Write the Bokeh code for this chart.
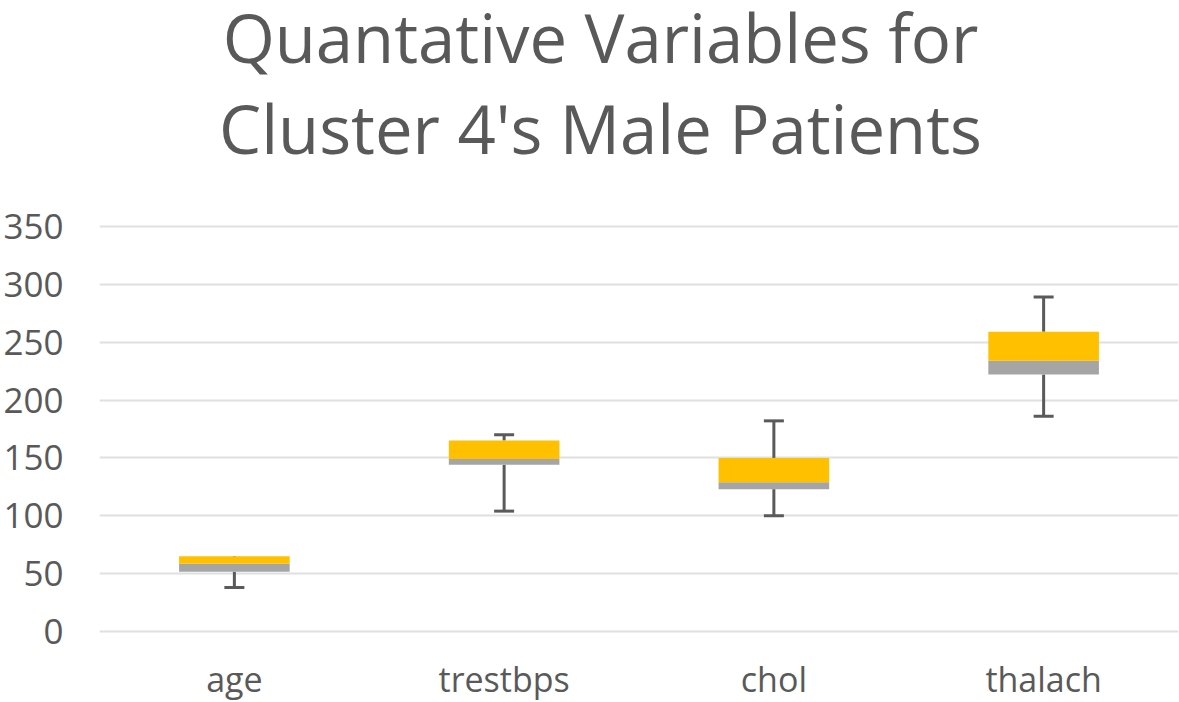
from bokeh.plotting import figure
from bokeh.models import Range1d, FixedTicker, Label, ColumnDataSource
from bokeh.core.properties import value
from bokeh.embed import file_html
from bokeh.resources import INLINE

# ---- data ----
categories = ["age", "trestbps", "chol", "thalach"]
mins    = [38, 104, 100, 186]
q1      = [51.5, 144, 123, 222]
medians = [58.5, 149, 129, 234]
q3      = [65, 165, 150, 259]
maxs    = [63, 170, 182, 289]
y_ticks = [0, 50, 100, 150, 200, 250, 300, 350]

GRAY_TEXT = "#595959"
FONT = "Open Sans"

# ---- layout constants ----
W, H = 1179, 702
LEFT = 98
Y_BOTTOM, Y_TOP = -61.4, 545.3      # frame spans the whole height; 0..350 sits where the reference has it
LABEL_Y = -41.2                     # anchor of category labels (data units)

xs = list(range(len(categories)))
src = ColumnDataSource(dict(x=xs, mn=mins, q1=q1, med=medians, q3=q3, mx=maxs,
                            lab=categories, laby=[LABEL_Y] * len(xs)))

p = figure(width=W, height=H, output_backend="svg", toolbar_location=None,
           x_range=Range1d(-0.5, 3.5), y_range=Range1d(Y_BOTTOM, Y_TOP),
           x_axis_location=None,
           min_border_left=LEFT, min_border_right=1, min_border_top=0, min_border_bottom=0)
p.outline_line_color = None
p.background_fill_color = "white"
p.border_fill_color = "white"

# grid
p.xgrid.visible = False
p.ygrid.ticker = FixedTicker(ticks=y_ticks)
p.ygrid.grid_line_color = "#E0E0E0"
p.ygrid.grid_line_width = 2

# whiskers (behind boxes)
WHISK = "#5a5a5a"
p.segment(x0="x", y0="q3", x1="x", y1="mx", source=src, line_color=WHISK, line_width=3)
p.segment(x0="x", y0="mn", x1="x", y1="q1", source=src, line_color=WHISK, line_width=3)
p.rect(x="x", y="mx", width=20, width_units="screen", height=3, height_units="screen",
       source=src, fill_color=WHISK, line_color=None)
p.rect(x="x", y="mn", width=20, width_units="screen", height=3, height_units="screen",
       source=src, fill_color=WHISK, line_color=None)

# boxes
p.vbar(x="x", bottom="q1", top="med", width=0.41, source=src, fill_color="#A5A5A5", line_color=None)
p.vbar(x="x", bottom="med", top="q3", width=0.41, source=src, fill_color="#FFC000", line_color=None)

# category labels
p.text(x="x", y="laby", text="lab", source=src, text_align="center", text_baseline="alphabetic",
       text_font=value(FONT), text_font_size="34px", text_color=GRAY_TEXT)

# y axis
p.yaxis.ticker = FixedTicker(ticks=y_ticks)
p.yaxis.axis_line_color = None
p.yaxis.major_tick_line_color = None
p.yaxis.minor_tick_line_color = None
p.yaxis.major_label_standoff = 30
p.yaxis.major_label_text_font = FONT
p.yaxis.major_label_text_font_size = "35px"
p.yaxis.major_label_text_color = GRAY_TEXT

# title (two lines), screen units relative to the plot frame
title_lines = ["Quantative Variables for", "Cluster 4's Male Patients"]
title_y = [666, 575]
for t, ty in zip(title_lines, title_y):
    p.add_layout(Label(x=501, y=ty, x_units="screen", y_units="screen", text=t,
                       text_align="center", text_baseline="alphabetic",
                       text_font=FONT, text_font_size="67px", text_color=GRAY_TEXT))

open("out.html", "w").write(file_html(p, INLINE))
